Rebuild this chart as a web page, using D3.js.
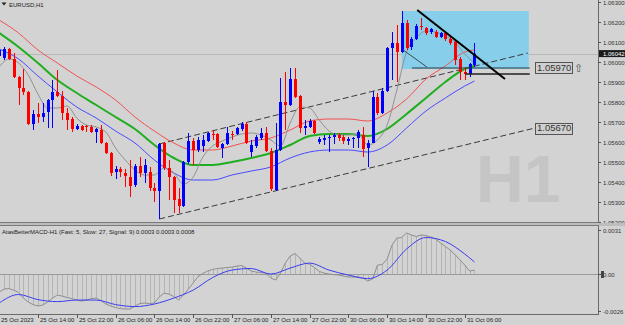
<!DOCTYPE html>
<html>
<head>
<meta charset="utf-8">
<script src="https://cdn.jsdelivr.net/npm/d3@7/dist/d3.min.js"></script>
<style>
  body { margin: 0; background: #d3d3d3; }
  svg { display: block; font-family: "Liberation Sans", Arial, sans-serif; }
</style>
</head>
<body>
<div id="chart"></div>
<script>
// EURUSD H1 candles, 25 Oct 06:00 .. 31 Oct 08:00 (one entry per bar)
var opens = [1.0603, 1.0602, 1.06065, 1.06015, 1.05925, 1.0587, 1.0585, 1.0569, 1.0574, 1.05725,
  1.0575, 1.0581, 1.0585, 1.0583, 1.05745, 1.05715, 1.05665, 1.0568, 1.0568, 1.05675,
  1.0565, 1.0566, 1.05595, 1.05545, 1.0545, 1.05465, 1.05445, 1.05425, 1.05385, 1.0548,
  1.05445, 1.0545, 1.0537, 1.05355, 1.05595, 1.0547, 1.05425, 1.05315, 1.0528, 1.055,
  1.05605, 1.0556, 1.0558, 1.05605, 1.0564, 1.0564, 1.0557, 1.0559, 1.0564, 1.0564,
  1.05665, 1.0569, 1.0555, 1.0558, 1.0562, 1.05645, 1.05555, 1.0536, 1.0556, 1.058,
  1.05785, 1.05915, 1.0583, 1.0567, 1.05675, 1.05705, 1.056, 1.0561, 1.0562, 1.05625,
  1.05635, 1.05625, 1.05605, 1.05615, 1.0562, 1.05635, 1.0557, 1.05595, 1.05825, 1.05745,
  1.05855, 1.0607, 1.06095, 1.0605, 1.06195, 1.06075, 1.06115, 1.0618, 1.0617, 1.0615,
  1.0615, 1.06125, 1.06145, 1.06115, 1.061, 1.06015, 1.0595, 1.0594, 1.05985];
var highs = [1.0607, 1.06075, 1.0607, 1.06045, 1.0593, 1.05965, 1.05855, 1.0576, 1.05795, 1.05795,
  1.05815, 1.0591, 1.0596, 1.05855, 1.0577, 1.05725, 1.0569, 1.05685, 1.05685, 1.05685,
  1.0567, 1.05685, 1.056, 1.0555, 1.0548, 1.05475, 1.05465, 1.0551, 1.0549, 1.05525,
  1.05515, 1.05475, 1.05395, 1.05595, 1.056, 1.0551, 1.0543, 1.0537, 1.05505, 1.05645,
  1.0562, 1.05625, 1.05635, 1.0565, 1.0566, 1.05645, 1.05595, 1.05675, 1.05655, 1.05675,
  1.057, 1.057, 1.0561, 1.05635, 1.0567, 1.05675, 1.0557, 1.05695, 1.0592, 1.0595,
  1.0597, 1.0597, 1.05835, 1.0571, 1.05715, 1.0571, 1.05625, 1.05635, 1.05635, 1.05645,
  1.05645, 1.05635, 1.05625, 1.05625, 1.0566, 1.05675, 1.0561, 1.05855, 1.05845, 1.0587,
  1.06075, 1.0615, 1.06185, 1.06255, 1.0621, 1.06125, 1.0619, 1.0622, 1.06175, 1.0617,
  1.0616, 1.0615, 1.0615, 1.06125, 1.0611, 1.06025, 1.05975, 1.05995, 1.06095];
var lows = [1.0602, 1.0601, 1.0601, 1.0592, 1.05785, 1.05835, 1.05685, 1.0566, 1.05695, 1.057,
  1.0567, 1.0567, 1.05825, 1.0571, 1.0566, 1.0565, 1.0566, 1.05655, 1.0565, 1.05645,
  1.05595, 1.0559, 1.0554, 1.0543, 1.05415, 1.05425, 1.05375, 1.05325, 1.05375, 1.05425,
  1.05395, 1.05355, 1.053, 1.05215, 1.0546, 1.0531, 1.05245, 1.05245, 1.05275, 1.0549,
  1.05485, 1.0555, 1.0555, 1.056, 1.0561, 1.0557, 1.0552, 1.05585, 1.0561, 1.05635,
  1.05655, 1.0559, 1.05525, 1.0557, 1.0561, 1.0555, 1.05355, 1.05355, 1.05555, 1.0566,
  1.0578, 1.0582, 1.05645, 1.05635, 1.0567, 1.0564, 1.0559, 1.05585, 1.0555, 1.0559,
  1.05605, 1.0559, 1.05585, 1.0557, 1.0557, 1.05525, 1.05475, 1.05595, 1.05735, 1.0574,
  1.0585, 1.0591, 1.059, 1.06045, 1.0606, 1.0606, 1.0611, 1.0616, 1.06135, 1.0614,
  1.0612, 1.0612, 1.06105, 1.06085, 1.05985, 1.0591, 1.0591, 1.05925, 1.05975];
var closes = [1.0606, 1.06065, 1.06015, 1.05925, 1.0587, 1.0585, 1.0569, 1.0574, 1.05725, 1.05745,
  1.0581, 1.0585, 1.0583, 1.05745, 1.0571, 1.05665, 1.0568, 1.0566, 1.05675, 1.0565,
  1.05665, 1.05595, 1.05545, 1.05445, 1.05465, 1.0545, 1.0543, 1.0538, 1.0548, 1.05445,
  1.05485, 1.0537, 1.05355, 1.0559, 1.0547, 1.05425, 1.0531, 1.0528, 1.055, 1.05605,
  1.0556, 1.0561, 1.0561, 1.05645, 1.05635, 1.05575, 1.0559, 1.05645, 1.05635, 1.0567,
  1.0569, 1.05595, 1.05585, 1.05625, 1.05645, 1.05555, 1.05365, 1.0556, 1.058, 1.05785,
  1.05915, 1.05825, 1.0567, 1.0568, 1.05705, 1.05645, 1.05615, 1.0562, 1.05625, 1.05635,
  1.0562, 1.05605, 1.05615, 1.0562, 1.0565, 1.05565, 1.05595, 1.05825, 1.05745, 1.05855,
  1.0607, 1.06095, 1.0605, 1.06195, 1.0607, 1.06115, 1.0618, 1.06175, 1.06145, 1.06165,
  1.06125, 1.06145, 1.06115, 1.06095, 1.0601, 1.0595, 1.0594, 1.0599, 1.06042];

// time axis labels, one every 8 bars
var timeLabels = ["25 Oct 2023", "25 Oct 14:00", "25 Oct 22:00", "26 Oct 06:00", "26 Oct 14:00",
  "26 Oct 22:00", "27 Oct 06:00", "27 Oct 14:00", "27 Oct 22:00", "30 Oct 06:00",
  "30 Oct 14:00", "30 Oct 22:00", "31 Oct 06:00"];
var priceTicks = [1.063, 1.062, 1.061, 1.060, 1.059, 1.058, 1.057, 1.056, 1.055, 1.054, 1.053, 1.052];

// moving averages, read every 4 bars (last point = bar 98)
var maBars = [0, 4, 8, 12, 16, 20, 24, 28, 32, 36, 40, 44, 48, 52, 56, 60, 64, 68, 72, 76, 80, 84, 88, 92, 96, 98];
var redMA = [1.0621, 1.06145, 1.0606, 1.05995, 1.0593, 1.05875, 1.0581, 1.05725, 1.05655, 1.05595,
  1.0556, 1.0556, 1.0558, 1.05605, 1.0562, 1.0566, 1.05705, 1.05715, 1.05715, 1.05705,
  1.05745, 1.05815, 1.05915, 1.0598, 1.0605, 1.0606];
var greenMA = [1.06145, 1.06075, 1.05995, 1.0591, 1.05845, 1.05785, 1.05725, 1.05665, 1.05585, 1.0552,
  1.05485, 1.05485, 1.055, 1.0552, 1.05545, 1.05585, 1.0563, 1.0564, 1.0564, 1.0563,
  1.05665, 1.0574, 1.0582, 1.059, 1.05965, 1.0598];
var blueMA = [1.06065, 1.06015, 1.0593, 1.0585, 1.05775, 1.0572, 1.05655, 1.05595, 1.0551, 1.05445,
  1.0541, 1.0541, 1.05435, 1.05455, 1.05475, 1.0552, 1.0555, 1.0556, 1.0556, 1.0555,
  1.05585, 1.0567, 1.05755, 1.0582, 1.0588, 1.05905];
// fast grey MA, read every 2 bars
var greyBars = d3.range(0, 99, 2);
var greyMA = [1.05975, 1.06015, 1.05995, 1.05935, 1.0584, 1.0577, 1.0577, 1.0578, 1.0572, 1.05685,
  1.05675, 1.0565, 1.0557, 1.0551, 1.0546, 1.05435, 1.05435, 1.0547, 1.05445, 1.0539,
  1.05425, 1.05525, 1.0558, 1.05605, 1.05625, 1.0564, 1.05645, 1.05635, 1.0561, 1.0558,
  1.05695, 1.05775, 1.0577, 1.0571, 1.05655, 1.05635, 1.05635, 1.0564, 1.05585, 1.0561,
  1.05685, 1.0586, 1.0605, 1.0612, 1.06155, 1.0615, 1.0613, 1.061, 1.0604, 1.05995];

// MACD main per bar and signal every 4 bars
var macdMain = [-0.00127, -0.00106, -0.00102, -0.00113, -0.0013, -0.00169, -0.00197, -0.00215, -0.00225, -0.00218,
  -0.00197, -0.00169, -0.00148, -0.00155, -0.00165, -0.00173, -0.00183, -0.0019, -0.00183, -0.00173,
  -0.00169, -0.00187, -0.00211, -0.00225, -0.00236, -0.00243, -0.00246, -0.00246, -0.00225, -0.00208,
  -0.00204, -0.00208, -0.00204, -0.00162, -0.00134, -0.00141, -0.00158, -0.00183, -0.00148, -0.00106,
  -0.00063, -0.00018, 0.00004, 0.00021, 0.00032, 0.00039, 0.00042, 0.00046, 0.00049, 0.00056,
  0.0006, 0.00042, 0.00021, 0.00014, 0.00011, 0.00007, -0.00028, -0.00042, 0.00007, 0.00077,
  0.00127, 0.00144, 0.00113, 0.00077, 0.0007, 0.00046, 0.00018, 0.00007, 0, -0.00004,
  -0.00007, -0.00014, -0.00021, -0.00021, -0.00021, -0.00028, -0.00049, -0.00035, 0.00063, 0.00067,
  0.00106, 0.00204, 0.00254, 0.00257, 0.00289, 0.00275, 0.00264, 0.00275, 0.00271, 0.00261,
  0.00246, 0.00218, 0.00194, 0.00169, 0.00137, 0.00099, 0.00063, 0.00021, 0.00028];
var macdSignal = [-0.00204, -0.00144, -0.0018, -0.00194, -0.00183, -0.00183, -0.00215, -0.00229, -0.00211, -0.00169,
  -0.00113, -0.00025, 0.00028, 0.00039, 0, 0.00042, 0.00077, 0.00028, -0.00007, -0.00032,
  0.00028, 0.00176, 0.00257, 0.00229, 0.00141, 0.00085];

// drawing objects: [bar, price] end points
var channelTop = [[33, 1.0559], [109, 1.06045]];
var channelBottom = [[33, 1.05215], [110.5, 1.0567]];
var downTrend = [[86.2, 1.0626], [104.3, 1.05915]];
var thinDiag = [[83.3, 1.0606], [88.2, 1.05975]];
var boxRange = {x0: 83, x1: 109.2, top: 1.06255, bottom: 1.05965};
var level1 = {x0: 85.1, x1: 109.4, price: 1.0597, label: "1.05970"};
var level2 = {x0: 96.1, x1: 109.4, price: 1.0594};
var channelLabel = "1.05670";
var lastPrice = 1.06042;

// layout
var svgWidth = 625, svgHeight = 325;
var plotRight = 598;
var mainTop = 0, mainBottom = 222;
var subTop = 226, subBottom = 314;

var svg = d3.select("#chart").append("svg")
  .attr("width", svgWidth)
  .attr("height", svgHeight);

svg.append("rect").attr("width", svgWidth).attr("height", svgHeight).attr("fill", "#d3d3d3");

// scales
var xScale = d3.scaleLinear().domain([0, 100]).range([-0.85, 484.15]);
var yPrice = d3.scaleLinear().domain([1.052, 1.063]).range([mainBottom, 2]);
var yMacd = d3.scaleLinear().domain([-0.0026, 0.0031]).range([311, 230]);

svg.append("clipPath").attr("id", "mainClip")
  .append("rect").attr("x", 0).attr("y", mainTop).attr("width", plotRight).attr("height", mainBottom - mainTop);
svg.append("clipPath").attr("id", "subClip")
  .append("rect").attr("x", 0).attr("y", subTop).attr("width", plotRight).attr("height", subBottom - subTop);

var main = svg.append("g").attr("clip-path", "url(#mainClip)");

// H1 watermark
main.append("text")
  .attr("x", 476).attr("y", 202)
  .attr("font-size", 66).attr("font-weight", "bold")
  .attr("fill", "#c5c5c5")
  .text("H1");

// bid line
main.append("line")
  .attr("x1", 0).attr("x2", plotRight)
  .attr("y1", Math.round(yPrice(lastPrice)) + 0.5).attr("y2", Math.round(yPrice(lastPrice)) + 0.5)
  .attr("stroke", "#b9b9b9");

// sky blue range box
main.append("rect")
  .attr("x", xScale(boxRange.x0)).attr("y", yPrice(boxRange.top))
  .attr("width", xScale(boxRange.x1) - xScale(boxRange.x0))
  .attr("height", yPrice(boxRange.bottom) - yPrice(boxRange.top))
  .attr("fill", "#87ceeb");

var segLine = d3.line().x(d => xScale(d[0])).y(d => yPrice(d[1]));

// dashed channel
main.append("path").attr("d", segLine(channelTop))
  .attr("stroke", "#3a3a3a").attr("stroke-width", 1).attr("stroke-dasharray", "6,3").attr("fill", "none");
main.append("path").attr("d", segLine(channelBottom))
  .attr("stroke", "#3a3a3a").attr("stroke-width", 1).attr("stroke-dasharray", "6,3").attr("fill", "none");

// moving averages
function maPath(bars, vals, color, width) {
  var line = d3.line()
    .x((d, i) => xScale(bars[i]))
    .y(d => yPrice(d))
    .curve(d3.curveMonotoneX);
  main.append("path").attr("d", line(vals))
    .attr("fill", "none").attr("stroke", color).attr("stroke-width", width);
}
maPath(maBars, blueMA, "#4a4aff", 1);
maPath(maBars, redMA, "#f25050", 1);
maPath(maBars, greenMA, "#1fae1f", 2);
maPath(greyBars, greyMA, "#909090", 1);

// candles
var candles = main.append("g");
opens.forEach(function(o, i) {
  var c = closes[i];
  var color = c >= o ? "#0000ff" : "#ff0000";
  var cx = Math.round(xScale(i));
  candles.append("line")
    .attr("x1", cx + 0.5).attr("x2", cx + 0.5)
    .attr("y1", yPrice(highs[i])).attr("y2", yPrice(lows[i]))
    .attr("stroke", color);
  var top = yPrice(Math.max(o, c));
  var h = Math.max(1, yPrice(Math.min(o, c)) - top);
  candles.append("rect")
    .attr("x", cx - 1).attr("y", top)
    .attr("width", 3).attr("height", h)
    .attr("fill", color);
});

// other drawing objects
main.append("path").attr("d", segLine(thinDiag))
  .attr("stroke", "#3a4a55").attr("stroke-width", 1).attr("fill", "none");
main.append("line")
  .attr("x1", xScale(level1.x0)).attr("x2", xScale(level1.x1))
  .attr("y1", yPrice(level1.price)).attr("y2", yPrice(level1.price))
  .attr("stroke", "#2d3a40").attr("stroke-width", 1);
main.append("line")
  .attr("x1", xScale(level2.x0)).attr("x2", xScale(level2.x1))
  .attr("y1", yPrice(level2.price)).attr("y2", yPrice(level2.price))
  .attr("stroke", "#222").attr("stroke-width", 1.6);
main.append("path").attr("d", segLine(downTrend))
  .attr("stroke", "#000").attr("stroke-width", 2).attr("fill", "none");

// price tag boxes
function tagBox(xLeft, price, label) {
  var yc = yPrice(price);
  main.append("rect")
    .attr("x", xLeft + 0.5).attr("y", Math.round(yc - 5.5) + 0.5)
    .attr("width", 37).attr("height", 11)
    .attr("fill", "#cfcfcf").attr("stroke", "#555");
  main.append("text")
    .attr("x", xLeft + 2).attr("y", yc).attr("dy", "0.36em")
    .attr("font-size", 9.5).attr("fill", "#333")
    .text(label);
}
tagBox(535, level1.price, level1.label);
tagBox(535, 1.0567, channelLabel);
main.append("text")
  .attr("x", 574).attr("y", yPrice(level1.price)).attr("dy", "0.38em")
  .attr("font-family", "DejaVu Sans").attr("font-size", 11).attr("fill", "#555")
  .text("\u21e7");

// title
svg.append("path").attr("d", "M1.5,2.5 L6.5,2.5 L4,5.5 Z").attr("fill", "#222");
svg.append("text").attr("x", 9).attr("y", 6.8)
  .attr("font-size", 6).attr("fill", "#222").text("EURUSD,H1");

// price axis
svg.append("line").attr("x1", plotRight + 0.5).attr("x2", plotRight + 0.5)
  .attr("y1", 0).attr("y2", subBottom).attr("stroke", "#6a6a6a");
var pAxis = svg.append("g");
priceTicks.forEach(function(p) {
  var y = Math.round(yPrice(p)) + 0.5;
  pAxis.append("line").attr("x1", plotRight).attr("x2", plotRight + 3)
    .attr("y1", y).attr("y2", y).attr("stroke", "#555");
  pAxis.append("text").attr("x", 603).attr("y", y).attr("dy", "0.35em")
    .attr("font-size", 6).attr("fill", "#333").text(d3.format(".5f")(p));
});
svg.append("rect").attr("x", 599).attr("y", yPrice(lastPrice) - 3.5)
  .attr("width", 26).attr("height", 7).attr("fill", "#1a1a1a");
svg.append("text").attr("x", 603).attr("y", yPrice(lastPrice)).attr("dy", "0.35em")
  .attr("font-size", 6).attr("fill", "#fff").text(d3.format(".5f")(lastPrice));

// window separators
svg.append("line").attr("x1", 0).attr("x2", plotRight + 1).attr("y1", mainBottom + 0.5).attr("y2", mainBottom + 0.5).attr("stroke", "#7a7a7a");
svg.append("rect").attr("x", 0).attr("y", mainBottom + 1).attr("width", svgWidth).attr("height", 3).attr("fill", "#bdbdbd");
svg.append("line").attr("x1", 0).attr("x2", plotRight + 1).attr("y1", subTop - 0.5).attr("y2", subTop - 0.5).attr("stroke", "#7a7a7a");
svg.append("line").attr("x1", 0).attr("x2", plotRight + 1).attr("y1", subBottom + 0.5).attr("y2", subBottom + 0.5).attr("stroke", "#6a6a6a");

// MACD sub window
var sub = svg.append("g").attr("clip-path", "url(#subClip)");
var zeroY = Math.round(yMacd(0)) + 0.5;
sub.selectAll(".hist")
  .data(macdMain)
  .enter()
  .append("line")
  .attr("x1", (d, i) => Math.round(xScale(i)) + 0.5)
  .attr("x2", (d, i) => Math.round(xScale(i)) + 0.5)
  .attr("y1", zeroY)
  .attr("y2", d => yMacd(d))
  .attr("stroke", "#b4b4b4");
sub.append("line").attr("x1", 0).attr("x2", plotRight).attr("y1", zeroY).attr("y2", zeroY).attr("stroke", "#9a9a9a");

var macdLine = d3.line().x((d, i) => xScale(i)).y(d => yMacd(d));
sub.append("path").attr("d", macdLine(macdMain))
  .attr("fill", "none").attr("stroke", "#8e8e8e").attr("stroke-width", 1);
var sigLine = d3.line().x((d, i) => xScale(maBars[i])).y(d => yMacd(d)).curve(d3.curveMonotoneX);
sub.append("path").attr("d", sigLine(macdSignal))
  .attr("fill", "none").attr("stroke", "#3c3cf0").attr("stroke-width", 1);

svg.append("text").attr("x", 2).attr("y", 233.5)
  .attr("font-size", 6).attr("fill", "#222")
  .text("AtasBetterMACD-H1 (Fast: 5, Slow: 27, Signal: 9) 0.0003 0.0003 0.0008");

// MACD axis
var macdTicks = [[0.0031, "0.0031"], [0, "0.00"], [-0.0026, "-0.0026"]];
macdTicks.forEach(function(t) {
  var y = Math.round(yMacd(t[0])) + 0.5;
  svg.append("line").attr("x1", plotRight).attr("x2", plotRight + 3)
    .attr("y1", y).attr("y2", y).attr("stroke", "#555");
  svg.append("text").attr("x", 603).attr("y", y).attr("dy", "0.35em")
    .attr("font-size", 6).attr("fill", "#333").text(t[1]);
});
svg.append("rect").attr("x", 601).attr("y", zeroY - 3.5).attr("width", 3).attr("height", 7).attr("fill", "#444");

// time axis
timeLabels.forEach(function(lbl, k) {
  var x = Math.round(xScale(k * 8)) + 0.5;
  svg.append("line").attr("x1", x).attr("x2", x)
    .attr("y1", subBottom).attr("y2", subBottom + 4).attr("stroke", "#555");
  svg.append("text").attr("x", x + 1.5).attr("y", 322)
    .attr("font-size", 6).attr("fill", "#222").text(lbl);
});
</script>
</body>
</html>
